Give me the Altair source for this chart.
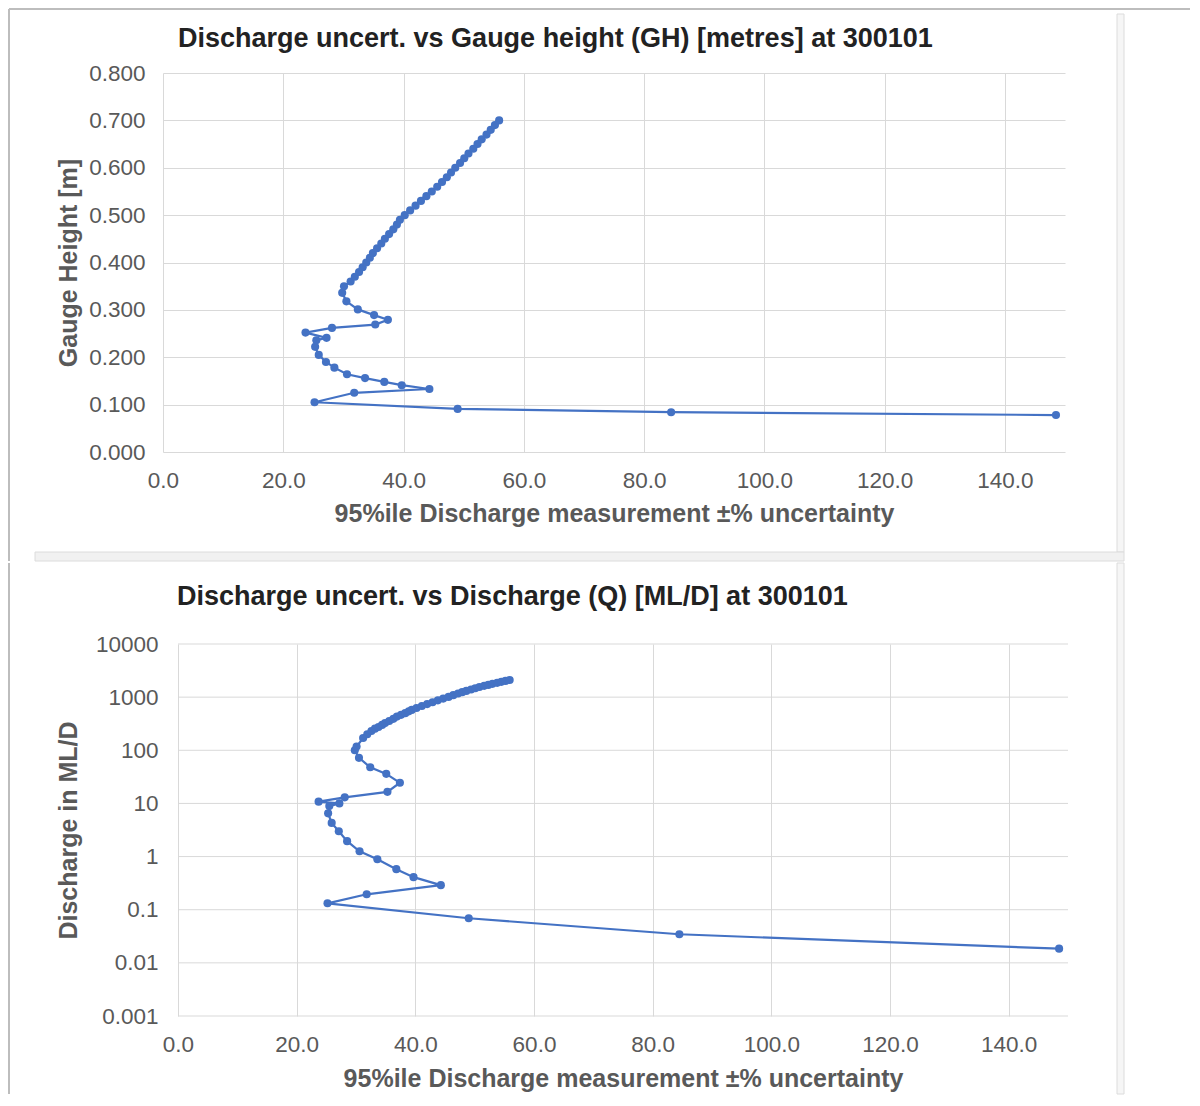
import altair as alt
import pandas as pd

# ---- data ----
uncertainty = [148.5, 84.5, 49.0, 25.2, 31.8, 44.3, 39.7, 36.8, 33.6, 30.6,
               28.5, 27.1, 25.9, 25.3, 25.5, 27.2, 23.7, 28.1, 35.3, 37.4,
               35.1, 32.4, 30.5, 29.8,
               30.1, 31.2, 31.9, 32.6, 33.2, 33.8, 34.4, 34.9, 35.6, 36.3,
               36.9, 37.6, 38.3, 38.9, 39.4, 40.2, 41.1, 42.0, 42.9, 43.8,
               44.7, 45.6, 46.4, 47.2, 47.9, 48.6, 49.4, 50.1, 50.8, 51.6,
               52.3, 53.0, 53.8, 54.5, 55.2, 55.9]
gauge_height = [0.078, 0.084, 0.091, 0.105, 0.125, 0.133, 0.141, 0.148, 0.156, 0.164,
                0.178, 0.190, 0.205, 0.222, 0.236, 0.241, 0.252, 0.262, 0.269, 0.279,
                0.289, 0.301, 0.318, 0.336,
                0.35, 0.36, 0.37, 0.38, 0.39, 0.40, 0.41, 0.42, 0.43, 0.44,
                0.45, 0.46, 0.47, 0.48, 0.49, 0.50, 0.51, 0.52, 0.53, 0.54,
                0.55, 0.56, 0.57, 0.58, 0.59, 0.60, 0.61, 0.62, 0.63, 0.64,
                0.65, 0.66, 0.67, 0.68, 0.69, 0.70]
discharge = [0.0185, 0.0345, 0.069, 0.132, 0.195, 0.29, 0.41, 0.58, 0.89, 1.26,
             1.95, 3.0, 4.3, 6.5, 8.9, 10.0, 10.8, 13.0, 16.5, 24.5,
             36, 48, 72, 100,
             118, 170, 200, 230, 255, 275, 300, 325, 355, 390,
             430, 465, 500, 540, 575, 625, 680, 740, 800, 870,
             940, 1010, 1090, 1170, 1240, 1310, 1390, 1470, 1550, 1630,
             1700, 1780, 1860, 1940, 2020, 2100]

x_ticks = [0, 20, 40, 60, 80, 100, 120, 140]
gh_ticks = [0.0, 0.1, 0.2, 0.3, 0.4, 0.5, 0.6, 0.7, 0.8]
q_ticks = [0.001, 0.01, 0.1, 1, 10, 100, 1000, 10000]

title_top = "Discharge uncert. vs Gauge height (GH) [metres] at 300101"
title_bottom = "Discharge uncert. vs Discharge (Q) [ML/D] at 300101"
x_title = "95%ile Discharge measurement ±% uncertainty"
y_title_top = "Gauge Height [m]"
y_title_bottom = "Discharge in ML/D"

df = pd.DataFrame({"idx": list(range(len(uncertainty))), "unc": uncertainty,
                   "gh": gauge_height, "q": discharge})
grid_df = pd.DataFrame({"q": q_ticks})

BLUE = "#4472C4"
GRID = "#d9d9d9"
LABEL = "#595959"
FONT = "Liberation Sans"
FRAME = "#bdbdbd"
SOFT = "#dcdcdc"
LABEL_SIZE = 22.5
TITLE_SIZE = 25
HEAD_SIZE = 27
MARK_SIZE = 66

one = alt.Data(values=[{"d": 1}])


def hrule(x, x2, y, color, w):
    return alt.Chart(one).mark_rule(color=color, strokeWidth=w).encode(
        x=alt.value(x), x2=alt.value(x2), y=alt.value(y))


def vrule(x, y, y2, color, w):
    return alt.Chart(one).mark_rule(color=color, strokeWidth=w).encode(
        x=alt.value(x), y=alt.value(y), y2=alt.value(y2))


def box(x, x2, y, y2, fill, stroke):
    return alt.Chart(one).mark_rect(fill=fill, stroke=stroke, strokeWidth=1).encode(
        x=alt.value(x), x2=alt.value(x2), y=alt.value(y), y2=alt.value(y2))


def heading(text, x, y):
    return alt.Chart(one).mark_text(
        text=text, align="left", baseline="alphabetic", font=FONT,
        fontSize=HEAD_SIZE, fontWeight="bold", color="#222222",
    ).encode(x=alt.value(x), y=alt.value(y))


def x_enc(title_y, rng=None):
    sc = alt.Scale(domain=[0, 150], nice=False, zero=False)
    if rng is not None:
        sc = alt.Scale(domain=[0, 150], nice=False, zero=False, range=rng)
    return alt.X("unc:Q", scale=sc,
                 axis=alt.Axis(values=x_ticks, format=".1f", title=x_title,
                               labelFlush=False, labelOverlap=False, labelPadding=17,
                               titleY=title_y, titleBaseline="middle"))


# ---------- top chart (plot origin at page 163,73) ----------
TW, TH = 902, 379
base_top = alt.Chart(df).encode(
    x=x_enc(61),
    y=alt.Y("gh:Q", scale=alt.Scale(domain=[0, 0.8], nice=False),
            axis=alt.Axis(values=gh_ticks, format=".3f", title=y_title_top,
                          labelPadding=18, labelOverlap=False,
                          titleX=-95, titleY=TH / 2, titleAngle=270,
                          titleAlign="center", titleBaseline="middle")),
    order="idx:Q",
)
top = alt.layer(
    vrule(-154, -64, 488, FRAME, 2),
    hrule(-154, 1027, -64, FRAME, 2),
    box(954, 961, -59, 479, "#f6f6f6", SOFT),
    box(-128, 961, 479, 488, "#f1f1f1", SOFT),
    heading(title_top, 15, -26),
    base_top.mark_line(color=BLUE, strokeWidth=2.2),
    base_top.mark_circle(color=BLUE, size=MARK_SIZE, opacity=1),
).properties(width=TW, height=TH)

# ---------- bottom chart (plot origin at page 163,644; data area starts at 178) ----------
BW, BH = 905, 372
ysc = alt.Scale(type="log", domain=[0.001, 10000], nice=False)
base_bot = alt.Chart(df).encode(
    x=x_enc(62, [15, BW]),
    y=alt.Y("q:Q", scale=ysc,
            axis=alt.Axis(values=q_ticks, format="~g", title=y_title_bottom,
                          grid=False, labelPadding=5, labelOverlap=False,
                          titleX=-95, titleY=BH / 2, titleAngle=270,
                          titleAlign="center", titleBaseline="middle")),
    order="idx:Q",
)
hgrid = alt.Chart(grid_df).mark_rule(color=GRID, strokeWidth=1).encode(
    y=alt.Y("q:Q", scale=ysc), x=alt.value(15), x2=alt.value(BW))
bottom = alt.layer(
    vrule(-154, -81, 450, FRAME, 2),
    box(954, 961, -81, 450, "#f6f6f6", SOFT),
    heading(title_bottom, 14, -39),
    hgrid,
    base_bot.mark_line(color=BLUE, strokeWidth=2.2),
    base_bot.mark_circle(color=BLUE, size=MARK_SIZE, opacity=1),
).properties(width=BW, height=BH)

chart = alt.vconcat(top, bottom, spacing=0).properties(
    padding=0, background="white"
).configure_view(stroke=None).configure_axis(
    grid=True, gridColor=GRID, gridWidth=1, domain=False, ticks=False,
    labelFont=FONT, labelFontSize=LABEL_SIZE, labelColor=LABEL,
    titleFont=FONT, titleFontSize=TITLE_SIZE, titleFontWeight="bold", titleColor=LABEL,
)

chart.save("out.html", embed_options={"renderer": "svg", "actions": False})
